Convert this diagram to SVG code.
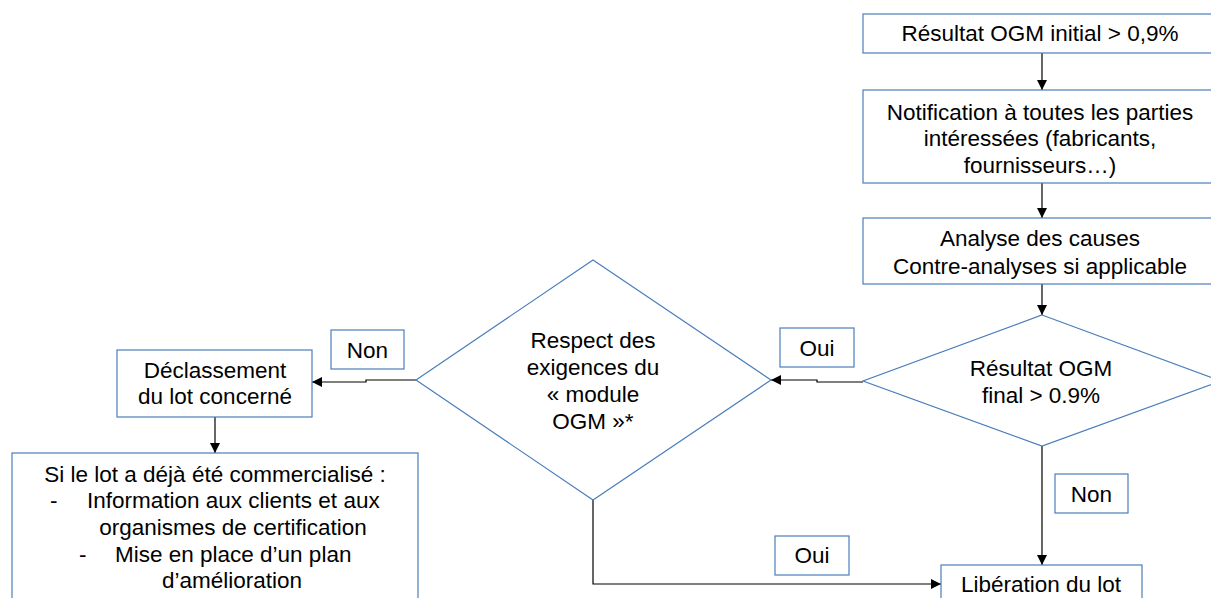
<svg xmlns="http://www.w3.org/2000/svg" width="1211" height="598" viewBox="0 0 1211 598">
<style>
.box{fill:#fff;stroke:#4A7EBB;stroke-width:1.2}
.t{font-family:"Liberation Sans",Arial,sans-serif;font-size:22.5px;fill:#000;text-anchor:middle}
.ts{font-family:"Liberation Sans",Arial,sans-serif;font-size:22.5px;fill:#000}
.c{fill:none;stroke:#000;stroke-width:1.2}
</style>
<defs>
<marker id="ah" viewBox="0 0 10 10" refX="10" refY="5" markerWidth="10" markerHeight="10" markerUnits="userSpaceOnUse" orient="auto">
<path d="M0,0 L10,5 L0,10 z" fill="#000"/>
</marker>
</defs>
<rect width="1211" height="598" fill="#fff"/>
<g id="connectors">
<path class="c" d="M1042,53 V90" marker-end="url(#ah)"/>
<path class="c" d="M1042,183 V218" marker-end="url(#ah)"/>
<path class="c" d="M1042,284 V315" marker-end="url(#ah)"/>
<path class="c" d="M1042,446 V565" marker-end="url(#ah)"/>
<path class="c" d="M863,382 H817 V380 H771" marker-end="url(#ah)"/>
<path class="c" d="M416,380 H366 V382 H312" marker-end="url(#ah)"/>
<path class="c" d="M215,417 V453" marker-end="url(#ah)"/>
<path class="c" d="M593,500 V584 H941" marker-end="url(#ah)"/>
</g>
<g id="n1">
<rect class="box" x="863" y="14" width="360" height="39"/>
<text class="t" x="1040" y="41">Résultat OGM initial &gt; 0,9%</text>
</g>
<g id="n2">
<rect class="box" x="863" y="90" width="360" height="93"/>
<text class="t" x="1040" y="120">Notification à toutes les parties</text>
<text class="t" x="1040" y="146">intéressées (fabricants,</text>
<text class="t" x="1040" y="173">fournisseurs…)</text>
</g>
<g id="n3">
<rect class="box" x="863" y="218" width="360" height="66"/>
<text class="t" x="1040" y="246">Analyse des causes</text>
<text class="t" x="1040" y="274">Contre-analyses si applicable</text>
</g>
<g id="d2">
<polygon class="box" points="1042,315 1221,381 1042,446 863,381"/>
<text class="t" x="1041" y="376">Résultat OGM</text>
<text class="t" x="1041" y="403">final &gt; 0.9%</text>
</g>
<g id="d1">
<polygon class="box" points="593,260 771,380 593,500 416,380"/>
<text class="t" x="593" y="348">Respect des</text>
<text class="t" x="593" y="375">exigences du</text>
<text class="t" x="593" y="402">« module</text>
<text class="t" x="593" y="429">OGM »*</text>
</g>
<g id="n4">
<rect class="box" x="117" y="350" width="195" height="67"/>
<text class="t" x="215" y="378">Déclassement</text>
<text class="t" x="215" y="404">du lot concerné</text>
</g>
<g id="n5">
<rect class="box" x="12" y="453" width="406" height="150"/>
<text class="t" x="215" y="482">Si le lot a déjà été commercialisé :</text>
<text class="ts" x="50" y="508">-</text>
<text class="ts" x="87" y="508">Information aux clients et aux</text>
<text class="t" x="233" y="535">organismes de certification</text>
<text class="ts" x="79" y="562">-</text>
<text class="ts" x="115" y="562">Mise en place d’un plan</text>
<text class="t" x="232" y="588">d’amélioration</text>
</g>
<g id="n6">
<rect class="box" x="941" y="565" width="201" height="40"/>
<text class="t" x="1041" y="592">Libération du lot</text>
</g>
<g id="l1">
<rect class="box" x="331" y="330" width="73" height="39"/>
<text class="t" x="367.5" y="358">Non</text>
</g>
<g id="l2">
<rect class="box" x="780" y="328" width="74" height="39"/>
<text class="t" x="817" y="356">Oui</text>
</g>
<g id="l3">
<rect class="box" x="1055" y="474" width="73" height="39"/>
<text class="t" x="1091.5" y="502">Non</text>
</g>
<g id="l4">
<rect class="box" x="775" y="536" width="74" height="39"/>
<text class="t" x="812" y="563">Oui</text>
</g>
</svg>
